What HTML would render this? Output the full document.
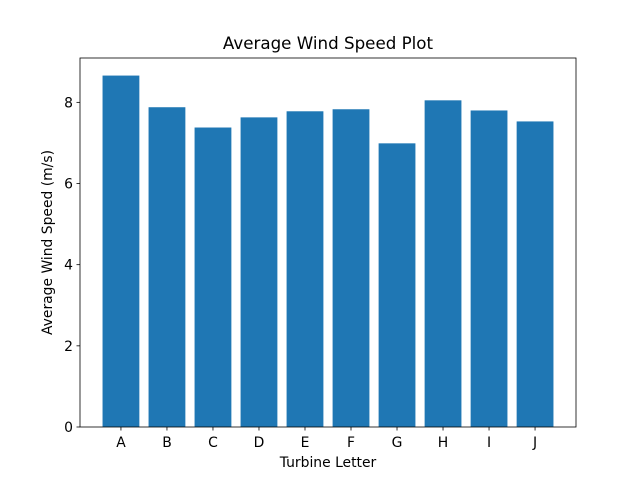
<!DOCTYPE html>
<html><head><meta charset="utf-8"><style>body{margin:0;background:#fff}svg{display:block;font-family:"DejaVu Sans","Liberation Sans",sans-serif}</style></head>
<body>
<svg id="c" width="640" height="480" xmlns="http://www.w3.org/2000/svg"></svg>
<script>
const categories=["A","B","C","D","E","F","G","H","I","J"];
const values=[8.66,7.88,7.38,7.63,7.78,7.83,6.99,8.05,7.80,7.53];
const yTicks=[0,2,4,6,8];
const L=80,R=576,T=58,B=427;
const n=categories.length;
const xmin=-0.4-0.05*(n-0.2),xmax=n-1+0.4+0.05*(n-0.2);
const ymax=Math.max(...values)*1.05;
const x=v=>L+(v-xmin)/(xmax-xmin)*(R-L);
const y=v=>B-v/ymax*(B-T);
const svg=document.getElementById('c');
const NS="http://www.w3.org/2000/svg";
function mk(tag,attrs,name,text){const e=document.createElementNS(NS,tag);for(const k in attrs)e.setAttribute(k,attrs[k]);


if(text!==undefined)e.textContent=text;svg.appendChild(e);return e;}
values.forEach((v,i)=>{mk('rect',{x:x(i-0.4),y:y(v),width:x(0.8)-x(0),height:y(0)-y(v),fill:'#1f77b4'},'bar-'+categories[i].toLowerCase());});
mk('rect',{x:L,y:T,width:R-L,height:B-T,fill:'none',stroke:'#000','stroke-width':0.8},'plot-frame');
categories.forEach((c,i)=>{const px=x(i);
mk('line',{x1:px,x2:px,y1:B,y2:B+3.5,stroke:'#000','stroke-width':0.8},'x-tick');
mk('text',{x:px,y:B+20,'text-anchor':'middle','font-size':13.9,fill:'#000'},'x-tick-label',c);});
yTicks.forEach(t=>{const py=y(t);
mk('line',{x1:L-3.5,x2:L,y1:py,y2:py,stroke:'#000','stroke-width':0.8},'y-tick');
mk('text',{x:L-7,y:py+5,'text-anchor':'end','font-size':13.9,fill:'#000'},'y-tick-label',t);});
mk('text',{x:(L+R)/2,y:467,'text-anchor':'middle','font-size':13.9,fill:'#000'},'x-axis-title','Turbine Letter');
mk('text',{x:52,y:(T+B)/2,'text-anchor':'middle','font-size':13.9,fill:'#000',transform:`rotate(-90 52 ${(T+B)/2})`},'y-axis-title','Average Wind Speed (m/s)');
mk('text',{x:(L+R)/2,y:49,'text-anchor':'middle','font-size':16.7,fill:'#000'},'chart-title','Average Wind Speed Plot');
</script>
</body></html>
